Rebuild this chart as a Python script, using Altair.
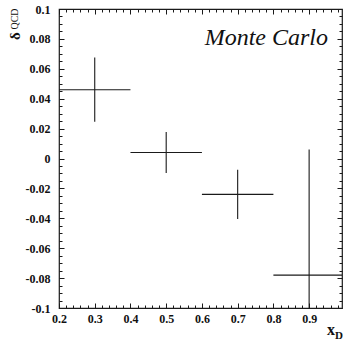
import altair as alt
import pandas as pd

# Bin centres, bin edges and the QCD correction per x_D bin
x_center = [0.3, 0.5, 0.7, 0.9]
x_low = [0.2, 0.4, 0.6, 0.8]
x_high = [0.4, 0.6, 0.8, 1.0]
delta_qcd = [0.046, 0.004, -0.024, -0.078]
delta_err = [0.0215, 0.0137, 0.0165, 0.084]

# Tick positions
x_major = [0.2, 0.3, 0.4, 0.5, 0.6, 0.7, 0.8, 0.9]
y_major = [0.1, 0.08, 0.06, 0.04, 0.02, 0.0, -0.02, -0.04, -0.06, -0.08, -0.1]
x_minor = [round(0.2 + 0.02 * i, 2) for i in range(40) if i % 5]
y_minor = [round(-0.1 + 0.005 * i, 3) for i in range(41) if i % 4]

df = pd.DataFrame({
    "x_center": x_center,
    "x_low": x_low,
    "x_high": x_high,
    "delta": delta_qcd,
    "lo": [d - e for d, e in zip(delta_qcd, delta_err)],
    "hi": [d + e for d, e in zip(delta_qcd, delta_err)],
})

INK = "#1a1a1a"
SERIF = "Liberation Serif, Times New Roman, serif"
X_SCALE = alt.Scale(domain=[0.2, 0.992], nice=False, zero=False)
Y_SCALE = alt.Scale(domain=[-0.1, 0.1], nice=False, zero=False)
HYPHEN = "replace(format(datum.value, '.2~f'), '\u2212', '-')"


def frame_axis(orient, values, size, labels, pad):
    # ticks point into the plot: the axis line is pulled inside by the tick length
    kw = dict(orient=orient, values=values, tickSize=size, offset=-size,
              domain=False, grid=False, title=None, labels=labels,
              tickColor=INK, tickWidth=1)
    if labels:
        kw.update(labelExpr=HYPHEN, labelFont=SERIF, labelFontWeight="bold",
                  labelFontSize=12, labelColor="#111111", labelPadding=pad,
                  labelOverlap=False, labelFlush=False)
    return alt.Axis(**kw)


verticals = alt.Chart(df).mark_rule(clip=True, color=INK, strokeWidth=1.1).encode(
    x=alt.X("x_center:Q", scale=X_SCALE, axis=frame_axis("bottom", x_major, 5, True, 5)),
    y=alt.Y("lo:Q", scale=Y_SCALE, axis=frame_axis("left", y_major, 5, True, 9)),
    y2="hi:Q",
)

horizontals = alt.Chart(df).mark_rule(clip=True, color=INK, strokeWidth=1.1).encode(
    x=alt.X("x_low:Q", scale=X_SCALE, axis=frame_axis("top", x_major, 5, False, 0)),
    x2="x_high:Q",
    y=alt.Y("delta:Q", scale=Y_SCALE, axis=frame_axis("right", y_major, 5, False, 0)),
)

minor_bl = alt.Chart(df).mark_point(opacity=0).encode(
    x=alt.X("x_center:Q", scale=X_SCALE, axis=frame_axis("bottom", x_minor, 3, False, 0)),
    y=alt.Y("delta:Q", scale=Y_SCALE, axis=frame_axis("left", y_minor, 3, False, 0)),
)

minor_tr = alt.Chart(df).mark_point(opacity=0).encode(
    x=alt.X("x_center:Q", scale=X_SCALE, axis=frame_axis("top", x_minor, 3, False, 0)),
    y=alt.Y("delta:Q", scale=Y_SCALE, axis=frame_axis("right", y_minor, 3, False, 0)),
)


def label(text, x, y, size, **style):
    return alt.Chart(pd.DataFrame({"t": [text]})).mark_text(
        font=SERIF, fontSize=size, color="#111111", **style
    ).encode(x=alt.value(x), y=alt.value(y), text="t:N")


monte_carlo = label("Monte Carlo", 269, 36, 24, fontStyle="italic",
                    align="right", baseline="alphabetic")
y_delta = label("δ", -44, 27, 15, fontWeight="bold", angle=270,
                align="center", baseline="middle")
y_sub = label("QCD", -44, 10, 10, angle=270, align="center", baseline="middle")
x_main = label("x", 268, 326, 16, fontWeight="bold", align="left",
               baseline="alphabetic")
x_sub = label("D", 276, 330, 11, fontWeight="bold", align="left",
              baseline="alphabetic")

chart = alt.layer(
    verticals, horizontals, minor_bl, minor_tr,
    monte_carlo, y_delta, y_sub, x_main, x_sub,
).resolve_axis(
    x="independent", y="independent"
).properties(
    width=283,
    height=299,
    padding={"left": 59, "top": 9, "right": 1, "bottom": 35},
    autosize=alt.AutoSizeParams(type="none"),
    background="white",
).configure_view(
    stroke=INK, strokeWidth=1.2
)

chart.save("out.html", embed_options={"renderer": "svg", "actions": False})
